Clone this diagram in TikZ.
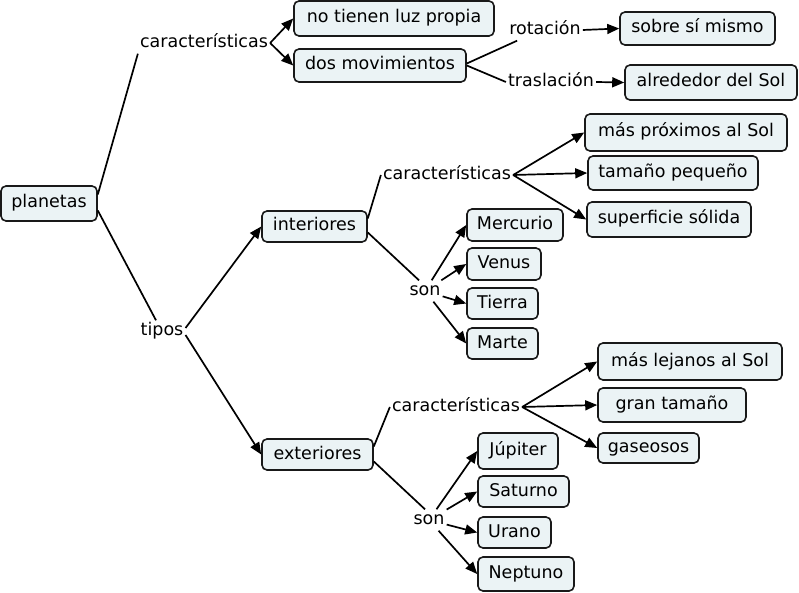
\documentclass[tikz,border=0pt]{standalone}
\usepackage{fontspec}
\setmainfont{DejaVu Sans}
\usetikzlibrary{arrows.meta}
\definecolor{boxfill}{RGB}{235,243,245}
\definecolor{boxline}{RGB}{25,25,25}
\begin{document}
\begin{tikzpicture}[x=1pt,y=-1pt,
  every node/.style={font=\fontsize{17.5}{20}\selectfont, text height=13pt, text depth=4pt},
  cbox/.style={draw=boxline, fill=boxfill, rounded corners=5pt, line width=1.6pt, inner sep=0pt},
  lbl/.style={inner sep=2pt},
  conn/.style={line width=1.7pt, draw=black},
  arr/.style={conn, -{Triangle[length=12pt,width=10pt]}}]
\useasboundingbox (0,0) rectangle (799,593);

% concept boxes
\node[cbox, minimum width=96pt, minimum height=35pt] (planetas) at (49,203.5) {planetas};
\node[cbox, minimum width=200pt, minimum height=35pt] (nluz) at (394,18.5) {no tienen luz propia};
\node[cbox, minimum width=172pt, minimum height=33pt] (dosmov) at (380,65.5) {dos movimientos};
\node[cbox, minimum width=155pt, minimum height=33pt] (sobre) at (697.5,28.5) {sobre sí mismo};
\node[cbox, minimum width=172pt, minimum height=35pt] (alrededor) at (711,82.5) {alrededor del Sol};
\node[cbox, minimum width=105pt, minimum height=31pt] (interiores) at (314.5,226.5) {interiores};
\node[cbox, minimum width=111pt, minimum height=31pt] (exteriores) at (317.5,454.5) {exteriores};
\node[cbox, minimum width=202pt, minimum height=37pt] (mprox) at (686,132.5) {más próximos al Sol};
\node[cbox, minimum width=170pt, minimum height=34pt] (tpeq) at (673,173) {tamaño pequeño};
\node[cbox, minimum width=164pt, minimum height=35pt] (ssol) at (669,219.5) {superficie sólida};
\node[cbox, minimum width=96pt, minimum height=32pt] (mercurio) at (515,225) {Mercurio};
\node[cbox, minimum width=74pt, minimum height=32pt] (venus) at (504,264) {Venus};
\node[cbox, minimum width=71pt, minimum height=31pt] (tierra) at (502.5,303.5) {Tierra};
\node[cbox, minimum width=71pt, minimum height=31pt] (marte) at (502.5,343.5) {Marte};
\node[cbox, minimum width=184pt, minimum height=37pt] (mlej) at (690,361.5) {más lejanos al Sol};
\node[cbox, minimum width=148pt, minimum height=34pt] (gtam) at (672,405) {gran tamaño};
\node[cbox, minimum width=101pt, minimum height=30pt] (gas) at (648.5,448) {gaseosos};
\node[cbox, minimum width=80pt, minimum height=36pt] (jupiter) at (518,451) {Júpiter};
\node[cbox, minimum width=91pt, minimum height=31pt] (saturno) at (523.5,491.5) {Saturno};
\node[cbox, minimum width=73pt, minimum height=31pt] (urano) at (514.5,532.5) {Urano};
\node[cbox, minimum width=96pt, minimum height=34pt] (neptuno) at (526,574) {Neptuno};

% linking phrases
\node[lbl] (car1) at (204,43) {características};
\node[lbl] (rot) at (545,30) {rotación};
\node[lbl] (tras) at (551,82) {traslación};
\node[lbl] (tipos) at (162,331) {tipos};
\node[lbl] (car2) at (447,175) {características};
\node[lbl] (son1) at (425,291) {son};
\node[lbl] (car3) at (456,407) {características};
\node[lbl] (son2) at (429,520) {son};

% connectors
\draw[conn] ([yshift=9pt]planetas.east) -- (car1.south west);
\draw[arr] (car1.east) -- (nluz.west);
\draw[arr] (car1.east) -- (dosmov.west);
\draw[conn] ([yshift=2pt]dosmov.east) -- ([xshift=10pt]rot.south west);
\draw[conn] (dosmov.east) -- (tras.west);
\draw[arr] (rot.east) -- (sobre.west);
\draw[arr] (tras.east) -- (alrededor.west);

\draw[conn] ([yshift=-7pt]planetas.east) -- ([xshift=-6pt]tipos.north);
\draw[arr] ([yshift=3pt]tipos.east) -- (interiores.west);
\draw[arr] ([yshift=-4pt]tipos.east) -- (exteriores.west);

\draw[conn] ([yshift=8pt]interiores.east) -- (car2.west);
\draw[conn] ([yshift=-6pt]interiores.east) -- ([xshift=-6pt]son1.north);
\draw[arr] (car2.east) -- (mprox.west);
\draw[arr] (car2.east) -- (tpeq.west);
\draw[arr] (car2.east) -- (ssol.west);
\draw[arr] (son1) -- (mercurio.west);
\draw[arr] (son1) -- (venus.west);
\draw[arr] (son1) -- (tierra.west);
\draw[arr] (son1) -- (marte.west);

\draw[conn] ([yshift=8pt]exteriores.east) -- (car3.west);
\draw[conn] ([yshift=-7pt]exteriores.east) -- ([xshift=-4pt]son2.north);
\draw[arr] (car3.east) -- (mlej.west);
\draw[arr] (car3.east) -- (gtam.west);
\draw[arr] (car3.east) -- (gas.west);
\draw[arr] (son2) -- (jupiter.west);
\draw[arr] (son2) -- (saturno.west);
\draw[arr] (son2) -- (urano.west);
\draw[arr] (son2) -- (neptuno.west);
\end{tikzpicture}
\end{document}
